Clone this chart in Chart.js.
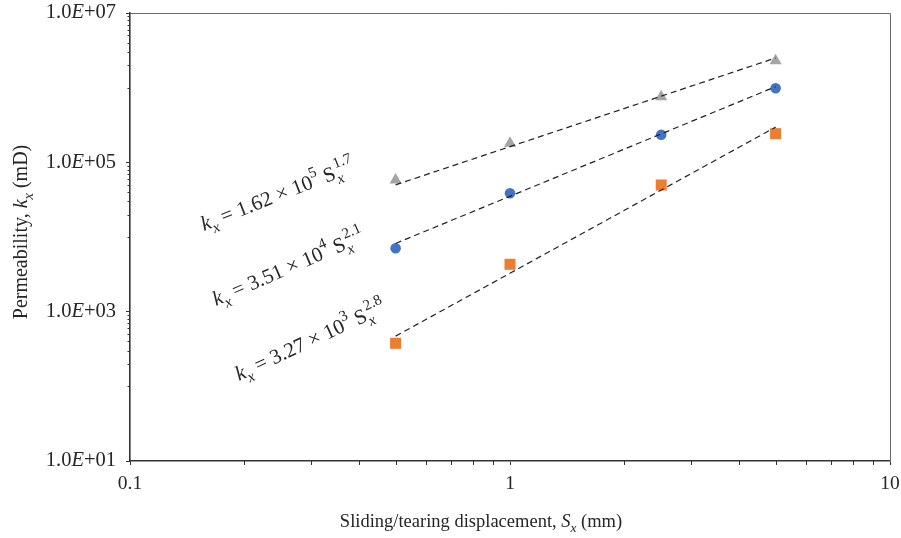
<!DOCTYPE html>
<html>
<head>
<meta charset="utf-8">
<script src="https://cdn.jsdelivr.net/npm/chart.js@4.4.1/dist/chart.umd.min.js"></script>
<style>
  html, body { margin: 0; padding: 0; background: #fff; }
  #wrap { width: 901px; height: 538px; }
</style>
</head>
<body>
<div id="wrap"><canvas id="chart" width="901" height="538"></canvas></div>
<script>
// data
const sx = [0.5, 1, 2.5, 5];
const kTriangle = [5.8e4, 1.8e5, 7.57e5, 2.3e6];
const kCircle = [7.06e3, 3.85e4, 2.34e5, 9.8e5];
const kSquare = [377, 4.31e3, 4.97e4, 2.42e5];

// fitted power-law lines (end points)
const fitX = [0.5, 5];
const fitTriangle = [5.0e4, 2.5e6];
const fitCircle = [8.2e3, 1.03e6];
const fitSquare = [470, 2.96e5];

const eqCoef = ['1.62', '3.51', '3.27'];
const eqPow = ['5', '4', '3'];
const eqExp = ['1.7', '2.1', '2.8'];

const xMajor = [0.1, 1, 10];
const yMajor = [1e1, 1e3, 1e5, 1e7];
const yLabels = ['1.0', '1.0', '1.0', '1.0'];
const yLabelExp = ['+01', '+03', '+05', '+07'];

const FONT = "'Liberation Serif', 'DejaVu Serif', serif";
const INK = '#262626';

function pts(xs, ys) {
    return xs.map((x, i) => ({x: x, y: ys[i]}));
}

function fitSet(ys) {
    return {
        data: pts(fitX, ys),
        showLine: true,
        borderColor: '#222',
        borderWidth: 1.2,
        borderDash: [6, 4],
        pointRadius: 0,
        fill: false
    };
}

// draw a run of text pieces: {t, it, sub, sup, stack}
function drawRich(ctx, parts, x, y, angle, size) {
    ctx.save();
    ctx.translate(x, y);
    ctx.rotate(angle * Math.PI / 180);
    ctx.fillStyle = INK;
    ctx.textBaseline = 'alphabetic';
    ctx.textAlign = 'left';
    let cx = 0, lastStart = 0;
    parts.forEach(p => {
        const small = p.sub || p.sup;
        const fs = small ? size * 0.72 : size;
        ctx.font = (p.it ? 'italic ' : '') + fs + 'px ' + FONT;
        let dy = 0;
        if (p.sub) dy = size * 0.28;
        if (p.sup) dy = -size * 0.48;
        let px = p.stack ? lastStart + size * 0.08 : cx;
        ctx.fillText(p.t, px, dy);
        const w = ctx.measureText(p.t).width;
        lastStart = px;
        cx = Math.max(cx, px + w);
    });
    ctx.restore();
    return cx;
}

function richWidth(ctx, parts, size) {
    let cx = 0, lastStart = 0;
    parts.forEach(p => {
        const fs = (p.sub || p.sup) ? size * 0.72 : size;
        ctx.font = (p.it ? 'italic ' : '') + fs + 'px ' + FONT;
        let px = p.stack ? lastStart + size * 0.08 : cx;
        lastStart = px;
        cx = Math.max(cx, px + ctx.measureText(p.t).width);
    });
    return cx;
}

const decorPlugin = {
    id: 'decor',
    afterDraw(chart) {
        const ctx = chart.ctx;
        const a = chart.chartArea;
        const xs = chart.scales.x, ys = chart.scales.y;

        // thin top/right frame
        ctx.save();
        ctx.strokeStyle = '#6b6b6b';
        ctx.lineWidth = 1;
        ctx.beginPath();
        ctx.moveTo(a.left, a.top + 0.5);
        ctx.lineTo(a.right + 0.5, a.top + 0.5);
        ctx.lineTo(a.right + 0.5, a.bottom);
        ctx.stroke();

        // minor ticks
        ctx.strokeStyle = '#333';
        ctx.lineWidth = 1;
        ctx.beginPath();
        [0.1, 1].forEach(d => {
            for (let m = 2; m <= 9; m++) {
                const px = Math.round(xs.getPixelForValue(m * d)) + 0.5;
                ctx.moveTo(px, a.bottom);
                ctx.lineTo(px, a.bottom + 4);
            }
        });
        [1e1, 1e3, 1e5].forEach(d => {
            for (let m = 1; m <= 9; m++) {
                const py = Math.round(ys.getPixelForValue(m * d * 10)) + 0.5;
                ctx.moveTo(a.left, py);
                ctx.lineTo(a.left - 2.5, py);
            }
        });
        ctx.stroke();
        ctx.restore();

        // y tick labels with italic E
        const fs = 20.5;
        yMajor.forEach((v, i) => {
            const parts = [{t: yLabels[i]}, {t: 'E', it: true}, {t: yLabelExp[i]}];
            ctx.save();
            ctx.textBaseline = 'middle';
            ctx.fillStyle = INK;
            const w = richWidth(ctx, parts, fs);
            let cx = 116 - w;
            const py = ys.getPixelForValue(v);
            parts.forEach(p => {
                ctx.font = (p.it ? 'italic ' : '') + fs + 'px ' + FONT;
                ctx.fillText(p.t, cx, py);
                cx += ctx.measureText(p.t).width;
            });
            ctx.restore();
        });

        // axis titles
        const xt = [{t: 'Sliding/tearing displacement, '}, {t: 'S', it: true}, {t: 'x', it: true, sub: true}, {t: ' (mm)'}];
        const xw = richWidth(ctx, xt, 18.5);
        drawRich(ctx, xt, 481 - xw / 2, 527, 0, 18.5);

        const yt = [{t: 'Permeability, '}, {t: 'k', it: true}, {t: 'x', it: true, sub: true}, {t: ' (mD)'}];
        const yw = richWidth(ctx, yt, 20);
        drawRich(ctx, yt, 27, 232 + yw / 2, -90, 20);

        // equations of the fitted lines
        const eqPos = [[204, 231, -21.5], [216, 306, -23.5], [239, 381, -25]];
        eqPos.forEach((p, i) => {
            const parts = [
                {t: 'k', it: true}, {t: 'x', it: true, sub: true},
                {t: ' = ' + eqCoef[i] + ' \u00d7 10'}, {t: eqPow[i], sup: true},
                {t: ' S'}, {t: 'x', it: true, sub: true}, {t: eqExp[i], sup: true, stack: true}
            ];
            drawRich(ctx, parts, p[0], p[1], p[2], 21);
        });
    }
};

new Chart(document.getElementById('chart'), {
    type: 'scatter',
    data: {
        datasets: [
            fitSet(fitTriangle),
            fitSet(fitCircle),
            fitSet(fitSquare),
            {
                data: pts(sx, kTriangle),
                pointStyle: 'triangle',
                pointRadius: 7,
                backgroundColor: '#a5a5a5',
                borderColor: '#a5a5a5',
                borderWidth: 0
            },
            {
                data: pts(sx, kCircle),
                pointStyle: 'circle',
                pointRadius: 5.3,
                backgroundColor: '#4472c4',
                borderColor: '#4472c4',
                borderWidth: 0
            },
            {
                data: pts(sx, kSquare),
                pointStyle: 'rect',
                pointRadius: 7.8,
                backgroundColor: '#ed7d31',
                borderColor: '#ed7d31',
                borderWidth: 0
            }
        ]
    },
    options: {
        responsive: false,
        animation: false,
        layout: { padding: { top: 13, right: 11, left: 0, bottom: 0 } },
        plugins: { legend: { display: false }, tooltip: { enabled: false } },
        scales: {
            x: {
                type: 'logarithmic',
                min: 0.1,
                max: 10,
                afterBuildTicks: s => { s.ticks = xMajor.map(v => ({value: v})); },
                afterFit: s => { s.height = 77; s.paddingLeft = 0; s.paddingRight = 0; },
                grid: { drawOnChartArea: false, tickLength: 4, color: '#333' },
                border: { color: '#333', width: 1.6 },
                ticks: {
                    autoSkip: false,
                    maxRotation: 0,
                    padding: 7,
                    color: INK,
                    font: { family: FONT, size: 19.5 },
                    callback: v => String(v)
                }
            },
            y: {
                type: 'logarithmic',
                min: 10,
                max: 1e7,
                afterBuildTicks: s => { s.ticks = yMajor.map(v => ({value: v})); },
                afterFit: s => { s.width = 130; },
                grid: { drawOnChartArea: false, tickLength: 4, color: '#333' },
                border: { color: '#333', width: 1.6 },
                ticks: { display: false }
            }
        }
    },
    plugins: [decorPlugin]
});
</script>
</body>
</html>
